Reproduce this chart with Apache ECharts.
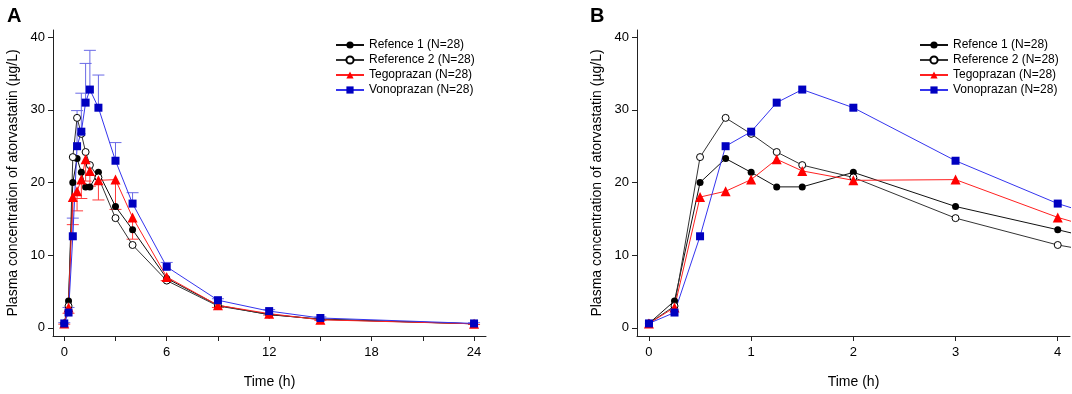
<!DOCTYPE html>
<html>
<head>
<meta charset="utf-8">
<script src="https://cdn.jsdelivr.net/npm/echarts@6/dist/echarts.min.js"></script>
<style>
html, body { margin: 0; padding: 0; background: #fff; }
#grafico { width: 1072px; height: 394px; }
</style>
</head>
<body>
<div id="grafico"></div>
<script>
// Datos (horas, ug/L)
let tiempos = [0, 0.25, 0.5, 0.75, 1, 1.25, 1.5, 2, 3, 4, 6, 9, 12, 15, 24];
let ref1 = [0.6, 3.7, 20.0, 23.3, 21.4, 19.4, 19.4, 21.4, 16.7, 13.5, 6.8, 3.1, 1.8, 1.2, 0.55];
let ref2 = [0.6, 3.0, 23.5, 28.9, 26.7, 24.2, 22.4, 20.7, 15.1, 11.4, 6.5, 3.0, 1.85, 1.15, 0.55];
let tego = [0.6, 2.8, 18.0, 18.8, 20.4, 23.2, 21.6, 20.3, 20.4, 15.2, 7.0, 3.1, 1.95, 1.1, 0.55];
let vono = [0.6, 2.1, 12.6, 25.0, 27.0, 31.0, 32.8, 30.3, 23.0, 17.1, 8.4, 3.8, 2.3, 1.35, 0.6];
// desviaciones (barras de error): vono hacia arriba, tego hacia abajo
let vonoSD = [0.1, 0.7, 2.5, 4.9, 5.3, 5.4, 5.4, 4.5, 2.5, 1.5, 0.6, 0.2, 0.2, 0.15, 0.1];
let tegoSD = [0.1, 0.8, 3.8, 2.7, 2.6, 3.0, 2.1, 2.7, 4.1, 3.0, 0.5, 0.3, 0.2, 0.1, 0.1];

let nombres = ['Refence 1 (N=28)', 'Reference 2 (N=28)', 'Tegoprazan (N=28)', 'Vonoprazan (N=28)'];
let ticksY = [0, 10, 20, 30, 40];
let ticksXA = [0, 3, 6, 9, 12, 15, 18, 21, 24];
let etiquetasXA = [0, 6, 12, 18, 24];
let ticksXB = [0, 1, 2, 3, 4];

let fuente = 'Arial, "Liberation Sans", sans-serif';
let negro = '#222';

let pares = (valores) => tiempos.map((t, i) => [t, valores[i]]);

let ejeX = (idx, min, max, ticks, etiquetas) => ({
    type: 'value',
    gridIndex: idx,
    min: min,
    max: max,
    name: 'Time (h)',
    nameLocation: 'middle',
    nameGap: 39,
    nameTextStyle: { fontFamily: fuente, fontSize: 14, color: '#000' },
    splitLine: { show: false },
    axisLine: { onZero: false, lineStyle: { color: negro, width: 1 } },
    axisTick: { length: 5, customValues: ticks, lineStyle: { color: negro } },
    axisLabel: { customValues: etiquetas, margin: 10, fontFamily: fuente, fontSize: 13, color: '#000' }
});

let ejeY = (idx) => ({
    type: 'value',
    gridIndex: idx,
    min: -1.13,
    max: 41,
    name: 'Plasma concentration of atorvastatin (\u00b5g/L)',
    nameLocation: 'middle',
    nameGap: 33,
    nameTextStyle: { fontFamily: fuente, fontSize: 14, color: '#000' },
    splitLine: { show: false },
    axisLine: { show: true, onZero: false, lineStyle: { color: negro, width: 1 } },
    axisTick: { show: true, length: 5, customValues: ticksY, lineStyle: { color: negro } },
    axisLabel: { customValues: ticksY, margin: 8, fontFamily: fuente, fontSize: 13, color: '#000' }
});

// Series de linea para un panel
let lineas = (idx) => [{
    name: nombres[0], type: 'line', xAxisIndex: idx, yAxisIndex: idx,
    data: pares(ref1), symbol: 'circle', symbolSize: 7,
    itemStyle: { color: '#000' }, lineStyle: { color: '#111', width: 1 }
}, {
    name: nombres[1], type: 'line', xAxisIndex: idx, yAxisIndex: idx,
    data: pares(ref2), symbol: 'circle', symbolSize: 7,
    itemStyle: { color: '#fff', borderColor: '#000', borderWidth: 1 }, lineStyle: { color: '#333', width: 1 }
}, {
    name: nombres[2], type: 'line', xAxisIndex: idx, yAxisIndex: idx,
    data: pares(tego), symbol: 'triangle', symbolSize: 10,
    itemStyle: { color: '#ff0000' }, lineStyle: { color: '#ff2020', width: 1 }
}, {
    name: nombres[3], type: 'line', xAxisIndex: idx, yAxisIndex: idx,
    data: pares(vono), symbol: 'rect', symbolSize: 8,
    itemStyle: { color: '#0000c0' }, lineStyle: { color: '#3535ee', width: 1 }
}];

// Barras de error (solo panel A)
let barras = (medias, sd, arriba, color) => ({
    type: 'custom', xAxisIndex: 0, yAxisIndex: 0, silent: true, clip: true,
    data: tiempos.map((t, i) => [t, medias[i], arriba ? medias[i] + sd[i] : medias[i] - sd[i]]),
    renderItem: (params, api) => {
        let p1 = api.coord([api.value(0), api.value(1)]);
        let p2 = api.coord([api.value(0), api.value(2)]);
        return {
            type: 'group',
            children: [
                { type: 'line', shape: { x1: p1[0], y1: p1[1], x2: p2[0], y2: p2[1] }, style: { stroke: color, lineWidth: 1 } },
                { type: 'line', shape: { x1: p2[0] - 6, y1: p2[1], x2: p2[0] + 6, y2: p2[1] }, style: { stroke: color, lineWidth: 1 } }
            ]
        };
    }
});

let leyenda = (left) => ({
    data: nombres,
    orient: 'vertical',
    left: left,
    top: 39,
    padding: 0,
    itemWidth: 28,
    itemHeight: 9,
    itemGap: 3,
    selectedMode: false,
    textStyle: { fontFamily: fuente, fontSize: 12, color: '#000', lineHeight: 12 }
});

let panelA = lineas(0);
let panelB = lineas(1);

let grafico = echarts.init(document.getElementById('grafico'));

let option = {
    animation: false,
    backgroundColor: '#fff',
    title: [
        { text: 'A', left: 2, top: 1, textStyle: { fontFamily: fuente, fontSize: 20, fontWeight: 'bold', color: '#000' } },
        { text: 'B', left: 585, top: 1, textStyle: { fontFamily: fuente, fontSize: 20, fontWeight: 'bold', color: '#000' } }
    ],
    legend: [leyenda(335), leyenda(919)],
    grid: [
        { left: 53, top: 30, width: 433, height: 312, containLabel: false },
        { left: 637, top: 30, width: 433, height: 312, containLabel: false }
    ],
    xAxis: [ejeX(0, -0.66, 24.7, ticksXA, etiquetasXA), ejeX(1, -0.117, 4.12, ticksXB, ticksXB)],
    yAxis: [ejeY(0), ejeY(1)],
    series: [
        panelA[0], panelA[1],
        barras(tego, tegoSD, false, '#ff3b3b'), panelA[2],
        barras(vono, vonoSD, true, '#6a6ae6'), panelA[3],
        panelB[0], panelB[1], panelB[2], panelB[3]
    ]
};

option && grafico.setOption(option);
window.addEventListener('resize', grafico.resize);
</script>
</body>
</html>
